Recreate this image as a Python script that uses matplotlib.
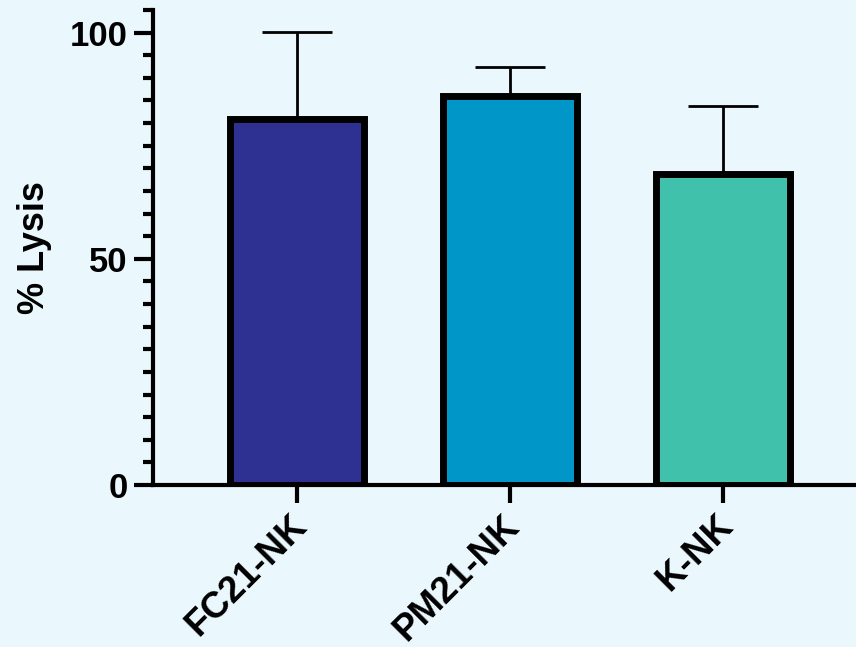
import numpy as np
import matplotlib.pyplot as plt
import matplotlib.transforms as mtransforms
from matplotlib.ticker import MultipleLocator

plt.rcParams['font.family'] = ['Liberation Sans', 'DejaVu Sans']
plt.rcParams['font.weight'] = 'bold'

groups = ['FC21-NK', 'PM21-NK', 'K-NK']
lysis = [81.0, 86.0, 68.8]
sd = [19.2, 6.4, 15.0]
colors = ['#2E3192', '#0096C8', '#40C1AC']

bg = '#EAF7FD'
fig = plt.figure(figsize=(8.56, 6.47), dpi=100, facecolor=bg)
ax = fig.add_axes([0.1787, 0.2504, 1.0 - 0.1787, 0.9845 - 0.2504])
ax.set_facecolor(bg)

x = np.arange(len(groups))
ax.errorbar(x, lysis, yerr=[np.zeros(len(sd)), sd], fmt='none', ecolor='black',
            elinewidth=2, capsize=25, capthick=2, zorder=2)
ax.bar(x, lysis, width=0.63, color=colors, edgecolor='black', linewidth=5, zorder=3)

ax.set_xlim(-0.676, 2.624)
ax.set_ylim(0, 105)
ax.yaxis.set_major_locator(MultipleLocator(50))
ax.yaxis.set_minor_locator(MultipleLocator(5))

for s in ['top', 'right']:
    ax.spines[s].set_visible(False)
for s in ['left', 'bottom']:
    ax.spines[s].set_linewidth(3)
ax.spines['left'].set_zorder(4)
ax.spines['bottom'].set_zorder(4)

ax.tick_params(axis='y', which='major', length=14, width=3, labelsize=25, pad=4)
ax.tick_params(axis='y', which='minor', length=7, width=3)
ax.tick_params(axis='x', which='major', length=13, width=3, labelsize=26.5, pad=8)

ax.set_xticks(x)
ax.set_xticklabels(groups, rotation=45, ha='right', va='top', rotation_mode='anchor')
shift = mtransforms.ScaledTranslation(-8 / 100, 6 / 100, fig.dpi_scale_trans)
for lab in ax.get_xticklabels():
    lab.set_transform(lab.get_transform() + shift)
for lab in ax.get_xticklabels() + ax.get_yticklabels():
    lab.set_fontweight('bold')

ax.set_ylabel('% Lysis', fontsize=26, fontweight='bold', labelpad=13)

plt.savefig('out.png', dpi=100, facecolor=bg)
